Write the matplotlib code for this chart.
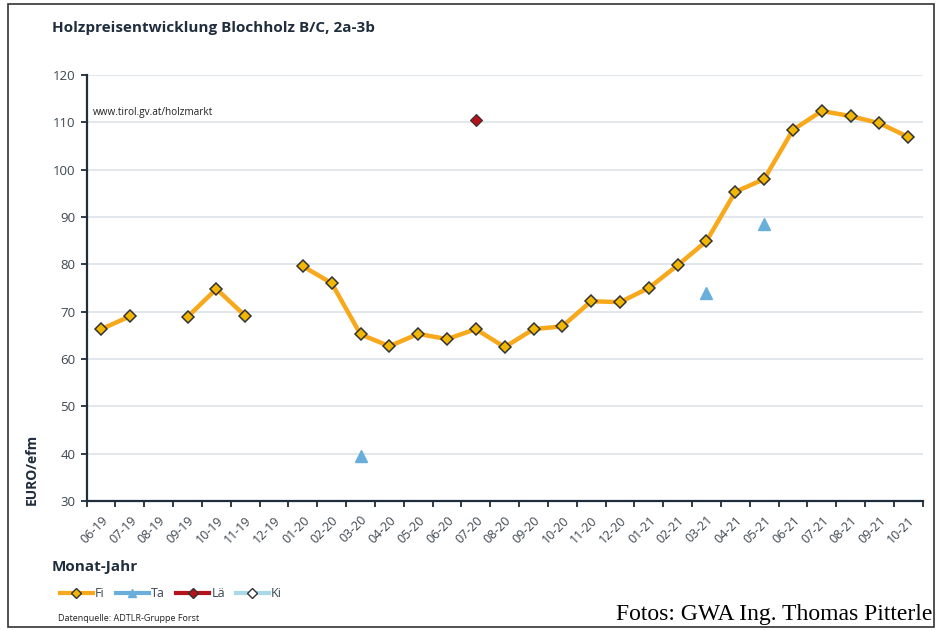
import matplotlib.pyplot as plt
import numpy as np
from matplotlib.lines import Line2D
from matplotlib.patches import Rectangle

plt.rcParams['font.family'] = ['Open Sans', 'DejaVu Sans']

# data
months = ["06-19", "07-19", "08-19", "09-19", "10-19", "11-19", "12-19",
          "01-20", "02-20", "03-20", "04-20", "05-20", "06-20", "07-20",
          "08-20", "09-20", "10-20", "11-20", "12-20", "01-21", "02-21",
          "03-21", "04-21", "05-21", "06-21", "07-21", "08-21", "09-21", "10-21"]
fi = [66.3, 69.0, np.nan, 68.9, 74.8, 69.1, np.nan,
      79.6, 76.0, 65.2, 62.7, 65.3, 64.2, 66.3,
      62.5, 66.3, 66.9, 72.2, 72.0, 75.0, 79.8,
      84.9, 95.3, 98.0, 108.4, 112.4, 111.3, 109.8, 106.9]
ta_months = ["03-20", "03-21", "05-21"]
ta = [39.5, 73.9, 88.5]
la_months = ["07-20"]
la = [110.5]

c_fi = "#F7A81B"
c_fi_mk = "#F2B705"
c_ta = "#6AAFDB"
c_la = "#B5121B"
c_ki = "#A9D9E9"
dark = "#1F2D3D"
grey = "#3c4650"

fig = plt.figure(figsize=(9.4, 6.3), dpi=100)
ax = fig.add_axes([0.0922, 0.2048, 0.8894, 0.6762])

x = np.arange(len(months))
ax.plot(x, fi, color=c_fi, lw=3.2, marker="D", ms=6.5, mfc=c_fi_mk,
        mec="#333333", mew=1.1, zorder=3)
ta_x = [months.index(m) for m in ta_months]
ax.plot(ta_x, ta, ls="none", marker="^", ms=8, color=c_ta, zorder=3)
la_x = [months.index(m) for m in la_months]
ax.plot(la_x, la, ls="none", marker="D", ms=6, mfc=c_la, mec="#333333",
        mew=0.8, zorder=3)

ax.set_xlim(-0.5, len(months) - 0.5)
ax.set_ylim(30, 120)
ax.set_yticks(np.arange(30, 121, 10))
ax.grid(axis="y", color="#DDE3E8", lw=1.2)
ax.set_axisbelow(True)

ax.set_xticks(x)
ax.set_xticklabels(months, rotation=45, ha="right", rotation_mode="anchor",
                   fontsize=9, color=grey)
ax.tick_params(axis="x", length=0, pad=9)
ax.set_xticks(np.arange(-0.5, len(months)), minor=True)
ax.tick_params(axis="x", which="minor", length=4, width=1.3, color=dark)
ax.tick_params(axis="y", length=4, width=1.3, color=dark, labelsize=9.5,
               labelcolor=grey, pad=4)

for s in ["top", "right"]:
    ax.spines[s].set_visible(False)
for s in ["left", "bottom"]:
    ax.spines[s].set_color(dark)
    ax.spines[s].set_linewidth(1.6)

ax.text(0.008, 0.912, "www.tirol.gv.at/holzmarkt", transform=ax.transAxes,
        fontsize=7.2, color="#222222", va="center")

fig.text(0.055, 0.955, "Holzpreisentwicklung Blochholz B/C, 2a-3b",
         fontsize=11, fontweight="bold", color=dark, va="center")
fig.text(0.034, 0.255, "EURO/efm", rotation=90, fontsize=10,
         fontweight="bold", color=dark, ha="center", va="center")
fig.text(0.055, 0.1, "Monat-Jahr", fontsize=11, fontweight="bold",
         color=dark, va="center")
fig.text(0.062, 0.019, "Datenquelle: ADTLR-Gruppe Forst", fontsize=6.5,
         color="#222222", va="center")

handles = [
    Line2D([], [], color=c_fi, lw=3, marker="D", ms=5, mfc=c_fi_mk, mec="#333333"),
    Line2D([], [], color=c_ta, lw=3, marker="^", ms=6, mfc=c_ta, mec=c_ta),
    Line2D([], [], color=c_la, lw=3, marker="D", ms=5, mfc=c_la, mec="#333333"),
    Line2D([], [], color=c_ki, lw=3, marker="D", ms=5, mfc="white", mec="#333333"),
]
fig.legend(handles, ["Fi", "Ta", "Lä", "Ki"], loc="center left",
           bbox_to_anchor=(0.052, 0.058), ncol=4, frameon=False,
           handlelength=2.6, handletextpad=0.2, columnspacing=0.9,
           fontsize=9, labelcolor=grey)

fig.text(0.992, 0.024, "Fotos: GWA Ing. Thomas Pitterle",
         family="Liberation Serif", fontsize=17, color="black",
         ha="right", va="center")

fig.patches.append(Rectangle((0.009, 0.005), 0.985, 0.988, fill=False,
                             ec="#333333", lw=1.2, transform=fig.transFigure))

fig.savefig("out.png", dpi=100)
